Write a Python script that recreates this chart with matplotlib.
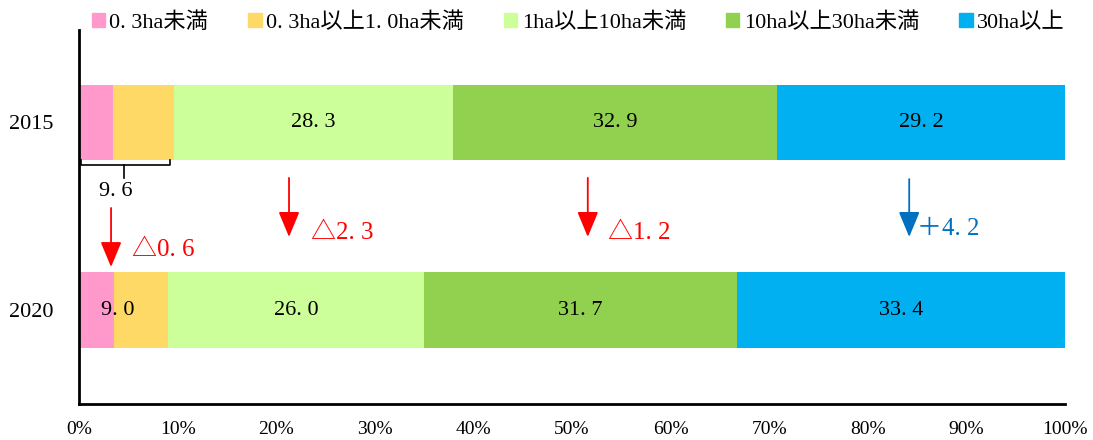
import matplotlib
matplotlib.use("Agg")
import matplotlib.pyplot as plt
from matplotlib.patches import Patch

plt.rcParams['font.family'] = ['Liberation Serif', 'Noto Sans CJK JP', 'DejaVu Sans']

# データ
years = ["2015", "2020"]
categories = ["0. 3ha未満", "0. 3ha以上1. 0ha未満", "1ha以上10ha未満", "10ha以上30ha未満", "30ha以上"]
values_2015 = [3.4, 6.2, 28.3, 32.9, 29.2]
values_2020 = [3.6, 5.4, 26.0, 31.7, 33.4]
colors = ["#FF99CC", "#FFD966", "#CCFF99", "#92D050", "#00B0F0"]
small_total = ["9. 6", "9. 0"]
changes = ["△0. 6", "△2. 3", "△1. 2", "＋4. 2"]
change_colors = ["#FF0000", "#FF0000", "#FF0000", "#0070C0"]

fig = plt.figure(figsize=(10.93, 4.4), dpi=100)
ax = fig.add_axes([79 / 1093, 36 / 440, 986 / 1093, 374 / 440])

data = [values_2015, values_2020]
for i, vals in enumerate(data):
    left = 0
    for j, v in enumerate(vals):
        ax.barh(i, v, left=left, height=0.4, color=colors[j], edgecolor="none")
        if j >= 2:
            ax.text(left + v / 2, i, f"{v:.1f}".replace(".", ". "), ha="center", va="center", fontsize=16)
        left += v

# 2020の小規模合計
ax.text(3.9, 1, small_total[1], ha="center", va="center", fontsize=16)

# 2015の括弧
by, ty = 0.228, 0.297
ax.plot([0.2, 0.2, 9.2, 9.2], [0.2, by, by, 0.2], color="black", lw=1.2)
ax.plot([4.6, 4.6], [by, ty], color="black", lw=1.2)
ax.text(3.7, 0.37, small_total[0], ha="center", va="center", fontsize=16)

# 矢印と増減
arrow_x = [3.25, 21.3, 51.6, 84.2]
arrow_y = [(0.457, 0.771), (0.297, 0.611), (0.297, 0.611), (0.303, 0.611)]
text_pos = [(5.4, 0.68), (23.5, 0.59), (53.7, 0.59), (85.0, 0.57)]
for k in range(4):
    ax.annotate("", xy=(arrow_x[k], arrow_y[k][1]), xytext=(arrow_x[k], arrow_y[k][0]),
                arrowprops=dict(arrowstyle="-|>,head_length=0.6,head_width=0.25", color=change_colors[k],
                                lw=1.3, mutation_scale=26, shrinkA=0, shrinkB=0))
    ax.text(text_pos[k][0], text_pos[k][1], changes[k], color=change_colors[k],
            ha="left", va="center", fontsize=18)

ax.set_xlim(0, 100)
ax.set_ylim(1.5, -0.49)
ax.set_yticks([0, 1])
ax.set_yticklabels(years, fontsize=16)
ax.set_xticks(range(0, 101, 10))
ax.set_xticklabels([f"{t}%" for t in range(0, 101, 10)], fontsize=14)
ax.tick_params(length=0)
ax.tick_params(axis="y", pad=18)
ax.tick_params(axis="x", pad=12)
for s in ["top", "right"]:
    ax.spines[s].set_visible(False)
ax.spines["left"].set_linewidth(2)
ax.spines["bottom"].set_linewidth(2)

handles = [Patch(color=c, label=l) for c, l in zip(colors, categories)]
fig.legend(handles=handles, loc="center", bbox_to_anchor=(0.529, 0.948), ncol=5, frameon=False,
           fontsize=16, handlelength=0.6, handleheight=0.6, handletextpad=0.2, columnspacing=1.8)

fig.savefig("out.png", dpi=100)
